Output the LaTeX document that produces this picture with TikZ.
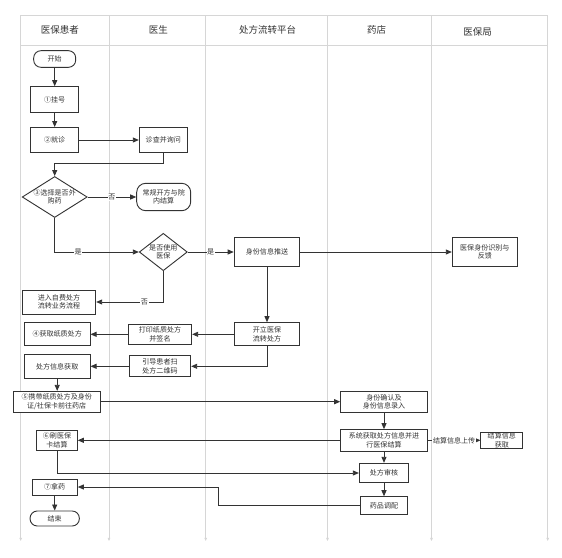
\documentclass[tikz,border=0pt]{standalone}
\usepackage{fontspec}
\setmainfont{Noto Sans CJK SC}
\usetikzlibrary{arrows.meta,shapes.geometric}
\definecolor{linecol}{HTML}{333333}
\definecolor{lanecol}{HTML}{D6D6D6}
\definecolor{textcol}{HTML}{333333}
\tikzset{sz/.style n args={2}{minimum width=#1*0.5mm,minimum height=#2*0.5mm}}
\begin{document}
\begin{tikzpicture}[x=0.5mm,y=-0.5mm,>={Triangle[length=3mm,width=2.5mm]},
  box/.style={draw=linecol,line width=1.3pt,fill=white,text=textcol,
    inner sep=0pt,align=center,font=\fontsize{10}{12}\selectfont},
  term/.style={box,rounded corners=3.6mm},
  dia/.style={box,diamond},
  lab/.style={fill=white,inner sep=0.8pt,align=center,text=textcol,
    font=\fontsize{10}{12}\selectfont},
  head/.style={text=textcol,font=\fontsize{13.5}{15}\selectfont},
  flow/.style={draw=linecol,line width=1.2pt,->},
  lane/.style={draw=lanecol,line width=0.9pt}]
  \fill[white] (0,0) rectangle (562,558);
  \useasboundingbox (0,0) rectangle (562,558);
  % Swimlane frame and headers.
  \draw[lane] (20.7,15) -- (547.7,15);
  \draw[lane] (20.7,45.7) -- (547.7,45.7);
  \foreach \x in {20.7,109,205.7,327.5,431.5,547.7}
    \draw[lane,-{Triangle[length=1.6mm,width=1.3mm]}] (\x,15) -- (\x,541);
  \node[head] (hpat) at (59.8,30) {医保患者};
  \node[head] (hdoc) at (158.3,30) {医生};
  \node[head] (hplat) at (267.7,30) {处方流转平台};
  \node[head] (hshop) at (376.7,30) {药店};
  \node[head] (hbur) at (477.7,32) {医保局};
  % Registration and consultation.
  \node[term,sz={42}{16.6}] (start) at (54.7,59) {开始};
  \node[box,sz={48}{25.6}] (reg) at (54.7,99.5) {①挂号};
  \node[box,sz={48}{25}] (visit) at (54.7,140) {②就诊};
  \node[box,sz={48}{25}] (exam) at (163.3,140) {诊查并询问};
  \node[dia,sz={65}{41},label={[lab,fill=none]center:③选择是否外\\购药}] (buyout) at (54.7,197) {};
  \node[term,rounded corners=4.5mm,sz={54}{27.4}] (inhosp) at (163.7,197) {常规开方与院\\内结算};
  \node[dia,sz={48}{37.4},label={[lab,fill=none]center:是否使用\\医保}] (useins) at (163.3,252) {};
  \node[box,sz={65.7}{29.4}] (idpush) at (267,252) {身份信息推送};
  \node[box,sz={65}{29.4}] (idcheck) at (484.8,252) {医保身份识别与\\反馈};
  \node[box,sz={73.4}{24}] (selfpay) at (59,302) {进入自费处方\\流转业务流程};
  % Prescription issued on the platform.
  \node[box,sz={65}{23.3}] (issue) at (267,334.3) {开立医保\\流转处方};
  \node[box,sz={63.4}{20.3}] (print) at (160,334.3) {打印纸质处方\\并签名};
  \node[box,sz={65.7}{23.3}] (getpaper) at (57.2,334.3) {④获取纸质处方};
  \node[box,sz={61.4}{20.7}] (guide) at (160,366.3) {引导患者扫\\处方二维码};
  \node[box,sz={65.7}{24}] (getinfo) at (57.2,366.3) {处方信息获取};
  \node[box,sz={86.7}{20.7}] (gostore) at (56.7,401.7) {⑤携带纸质处方及身份\\证/社保卡前往药店};
  % Settlement and dispensing at the pharmacy.
  \node[box,sz={86.6}{20.6}] (idconf) at (384,401.7) {身份确认及\\身份信息录入};
  \node[box,sz={86.6}{21.4}] (settle) at (384,440.3) {系统获取处方信息并进\\行医保结算};
  \node[box,sz={41.7}{16.6}] (setinfo) at (501.8,440.3) {结算信息\\获取};
  \node[box,sz={40.6}{20}] (swipe) at (57,440.3) {⑥刷医保\\卡结算};
  \node[box,sz={49.3}{19.4}] (review) at (384,473) {处方审核};
  \node[box,sz={46.6}{17.6}] (dispense) at (384,505.5) {药品调配};
  \node[box,sz={45.3}{16}] (take) at (54.7,487) {⑦拿药};
  \node[term,sz={49.3}{15}] (finish) at (54.7,518.5) {结束};
  \coordinate (dturn) at (218.3,487);
  % Connectors.
  \draw[flow] (start) -- (reg);
  \draw[flow] (reg) -- (visit);
  \draw[flow] (visit) -- (exam);
  \draw[flow] (exam.south) -- ++(0,10.6) -| (buyout.north);
  \draw[flow] (buyout) -- node[lab] {否} (inhosp);
  \draw[flow] (buyout.south) |- node[lab,pos=0.64] {是} (useins.west);
  \draw[flow] (useins) -- node[lab] {是} (idpush);
  \draw[flow] (idpush) -- (idcheck);
  \draw[flow] (useins.south) |- node[lab,pos=0.64] {否} (selfpay.east);
  \draw[flow] (idpush) -- (issue);
  \draw[flow] (issue) -- (print);
  \draw[flow] (print) -- (getpaper);
  \draw[flow] (issue.south) |- (guide.east);
  \draw[flow] (guide) -- (getinfo);
  \draw[flow] (getinfo) -- (getinfo |- gostore.north);
  \draw[flow] (gostore) -- (idconf);
  \draw[flow] (idconf) -- (settle);
  \draw[flow] (settle) -- node[lab] {结算信息上传} (setinfo);
  \draw[flow] (settle) -- (swipe);
  \draw[flow] (swipe.south) |- (review.west);
  \draw[flow] (settle) -- (review);
  \draw[flow] (review) -- (dispense);
  \draw[flow] (dispense.west) -| (dturn) -- (take.east);
  \draw[flow] (take) -- (finish);
\end{tikzpicture}
\end{document}
